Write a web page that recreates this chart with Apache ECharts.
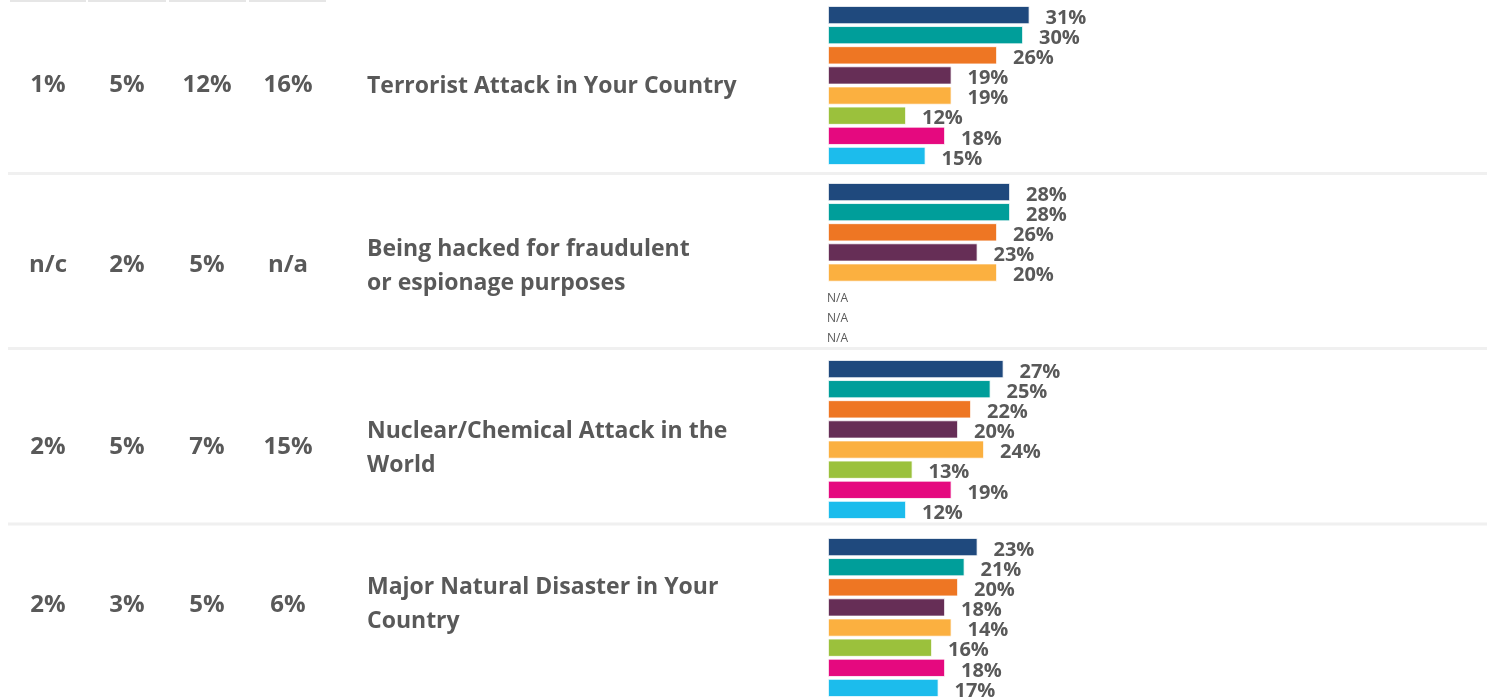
<!DOCTYPE html>
<html><head><meta charset="utf-8">
<script src="https://cdn.jsdelivr.net/npm/echarts@6/dist/echarts.min.js"></script>
<style>html,body{margin:0;padding:0;background:#fff}#c{width:1487px;height:700px}</style>
</head><body><div id="c"></div>
<script>
// ---- data ----
const rowTitles = ['Terrorist Attack in Your Country', 'Being hacked for fraudulent\nor espionage purposes', 'Nuclear/Chemical Attack in the\nWorld', 'Major Natural Disaster in Your\nCountry'];
const colA = ['1%', 'n/c', '2%', '2%'];
const colB = ['5%', '2%', '5%', '3%'];
const colC = ['12%', '5%', '7%', '5%'];
const colD = ['16%', 'n/a', '15%', '6%'];
const slots = ['s1', 's2', 's3', 's4', 's5', 's6', 's7', 's8'];
const barColors = ['#1f497d', '#009e9a', '#ee7623', '#662e56', '#fbb040', '#9bc13c', '#e5097f', '#1cbcec'];
const row1Values = [31, 30, 26, 19, 19, 12, 18, 15];
const row2Values = [28, 28, 26, 23, 26, null, null, null];
const row3Values = [27, 25, 22, 20, 24, 13, 19, 12];
const row4Values = [23, 21, 20, 18, 19, 16, 18, 17];
const row1Labels = ['31%', '30%', '26%', '19%', '19%', '12%', '18%', '15%'];
const row2Labels = ['28%', '28%', '26%', '23%', '20%', 'N/A', 'N/A', 'N/A'];
const row3Labels = ['27%', '25%', '22%', '20%', '24%', '13%', '19%', '12%'];
const row4Labels = ['23%', '21%', '20%', '18%', '14%', '16%', '18%', '17%'];

// ---- layout ----
const FONT = '"Open Sans"';
const TXT = '#595959';
const gridTops = [5, 182, 359, 537];
const rowNumY = [85, 265, 447, 605];
const rowTitleY = [86, 266, 448, 604];
const colX = [48, 127, 207, 288];
const sepY = [173.5, 348.5, 524];

const allValues = [row1Values, row2Values, row3Values, row4Values];
const allLabels = [row1Labels, row2Labels, row3Labels, row4Labels];

const grids = [], xAxes = [], yAxes = [], series = [];
allValues.forEach((vals, r) => {
  grids.push({left: 828, width: 650, top: gridTops[r], height: 161});
  xAxes.push({type: 'value', gridIndex: r, min: 0, max: 100, show: false});
  yAxes.push({type: 'category', gridIndex: r, data: slots, inverse: true, show: false});
  series.push({
    type: 'bar', xAxisIndex: r, yAxisIndex: r, barCategoryGap: '10%', animation: false,
    data: vals.map((v, i) => {
      const lab = allLabels[r][i];
      if (v === null) {
        return {value: 0, itemStyle: {color: barColors[i]},
          label: {show: true, position: 'right', distance: -1, formatter: lab, fontFamily: FONT,
                  fontSize: 12, fontWeight: 'normal', color: TXT, offset: [0, 6]}};
      }
      return {value: v, itemStyle: {color: barColors[i], borderColor: '#ffffff', borderWidth: 0.8},
        label: {show: true, position: 'right', distance: 16, formatter: lab, fontFamily: FONT,
                fontSize: 20, fontWeight: 'bold', color: TXT, offset: [0, 3]}};
    })
  });
});

const graphics = [];
// header cell borders
[[10, 86], [88, 166], [169, 246], [249, 326]].forEach(p => graphics.push({
  type: 'rect', shape: {x: p[0], y: 0, width: p[1] - p[0], height: 2}, style: {fill: '#e6e6e6'}}));
sepY.forEach(y => graphics.push({type: 'rect', shape: {x: 8, y: y - 1.5, width: 1479, height: 3}, style: {fill: '#f0f0f0'}}));
rowTitles.forEach((t, r) => {
  [colA, colB, colC, colD].forEach((col, c) => graphics.push({
    type: 'text', x: colX[c], y: rowNumY[r],
    style: {text: col[r], fontFamily: FONT, fontWeight: 'bold', fontSize: 24, fill: TXT, align: 'center', verticalAlign: 'middle'}}));
  graphics.push({type: 'text', x: 367, y: rowTitleY[r],
    style: {text: t, fontFamily: FONT, fontWeight: 'bold', fontSize: 23, lineHeight: 34, fill: TXT, align: 'left', verticalAlign: 'middle'}});
});

const chart = echarts.init(document.getElementById('c'), null, {renderer: 'canvas'});
chart.setOption({
  animation: false,
  grid: grids, xAxis: xAxes, yAxis: yAxes, series: series,
  graphic: graphics
});
</script></body></html>
